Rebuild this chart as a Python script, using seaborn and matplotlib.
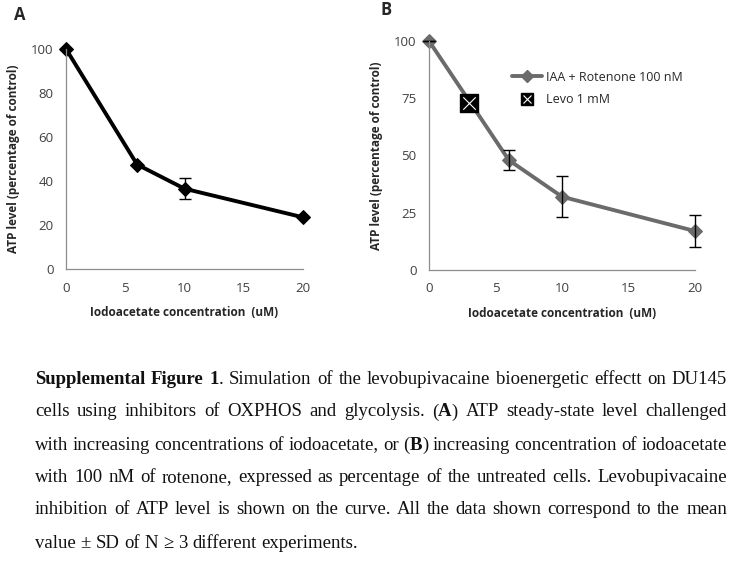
import numpy as np
import pandas as pd
import seaborn as sns
import matplotlib.pyplot as plt
from matplotlib.lines import Line2D
from matplotlib.legend_handler import HandlerTuple

# datos
conc_a = [0, 6, 10, 20]
atp_a = [100, 47.5, 36.5, 23.5]
sd_a = [0, 0, 4.8, 0]

conc_b = [0, 6, 10, 20]
atp_b = [100, 48, 32, 17]
sd_b = [0, 4.2, 9, 7]

levo_x = [3]
levo_y = [72.8]

x_ticks = [0, 5, 10, 15, 20]
y_ticks_a = [0, 20, 40, 60, 80, 100]
y_ticks_b = [0, 25, 50, 75, 100]

sns.set_style("white")
plt.rcParams['font.family'] = ['Open Sans', 'DejaVu Sans']

W, H = 729, 586
fig = plt.figure(figsize=(W / 100, H / 100), dpi=100)


def ax_at(x0, y0, x1, y1):
    return fig.add_axes([x0 / W, 1 - y1 / H, (x1 - x0) / W, (y1 - y0) / H])


tick_col = '#404040'
spine_col = '#8c8c8c'


def style_axes(ax, yticks):
    sns.despine(ax=ax)
    for s in ['left', 'bottom']:
        ax.spines[s].set_color(spine_col)
        ax.spines[s].set_linewidth(0.9)
    ax.set_xlim(0, 20)
    ax.set_ylim(0, 100)
    ax.set_xticks(x_ticks)
    ax.set_yticks(yticks)
    ax.tick_params(axis='both', direction='out', length=4, width=0.9,
                   color=spine_col, labelcolor=tick_col, labelsize=9.5, pad=5)
    ax.set_xlabel('Iodoacetate concentration  (uM)', fontsize=8.5,
                  fontweight='bold', color='#262626', labelpad=8)
    ax.set_ylabel('ATP level (percentage of control)', fontsize=8.5,
                  fontweight='bold', color='#262626', labelpad=8)


# Panel A
ax1 = ax_at(66, 49, 303, 269)
sns.lineplot(x=conc_a, y=atp_a, ax=ax1, color='black', linewidth=2.8,
             marker='D', markersize=7, markeredgecolor='black', clip_on=False)
ax1.errorbar(conc_a, atp_a, yerr=sd_a, fmt='none', ecolor='black',
             elinewidth=1, capsize=4, capthick=1, clip_on=False)
style_axes(ax1, y_ticks_a)

# Panel B
grey = '#6b6b6b'
ax2 = ax_at(429, 41, 695, 270)
sns.lineplot(x=conc_b, y=atp_b, ax=ax2, color=grey, linewidth=2.8,
             marker='D', markersize=7, markeredgecolor=grey, clip_on=False)
ax2.errorbar(conc_b, atp_b, yerr=sd_b, fmt='none', ecolor='black',
             elinewidth=1, capsize=4, capthick=1, clip_on=False)
sns.scatterplot(x=levo_x, y=levo_y, ax=ax2, marker='s', s=150,
                color='black', edgecolor='black', zorder=5)
sns.scatterplot(x=levo_x, y=levo_y, ax=ax2, marker='x', s=80,
                color='white', linewidth=0.8, zorder=6)
style_axes(ax2, y_ticks_b)

handles = [
    Line2D([], [], color=grey, linewidth=2.8, marker='D', markersize=6),
    (Line2D([], [], color='black', marker='s', markersize=9, linestyle='none'),
     Line2D([], [], color='white', marker='x', markersize=6, markeredgewidth=0.8,
            linestyle='none')),
]
leg = ax2.legend(handles, ['IAA + Rotenone 100 nM', 'Levo 1 mM'],
                 loc='upper left', bbox_to_anchor=(0.27, 0.92), frameon=False,
                 fontsize=9, handlelength=2.4, handletextpad=0.3,
                 labelspacing=0.75,
                 handler_map={tuple: HandlerTuple(ndivide=1, pad=0)})
for t in leg.get_texts():
    t.set_color('#262626')

fig.text(20 / W, 1 - 15 / H, 'A', fontsize=12, fontweight='bold',
         ha='center', va='center')
fig.text(386 / W, 1 - 10 / H, 'B', fontsize=12, fontweight='bold',
         ha='center', va='center')

# Texto de la leyenda de la figura (justificado)
cap_lines = [
    [[('Supplemental', 1)], [('Figure', 1)], [('1', 1), ('.', 0)], [('Simulation', 0)],
     [('of', 0)], [('the', 0)], [('levobupivacaine', 0)], [('bioenergetic', 0)],
     [('effectt', 0)], [('on', 0)], [('DU145', 0)]],
    [[(w, 0)] for w in 'cells using inhibitors of OXPHOS and glycolysis.'.split()]
    + [[('(', 0), ('A', 1), (')', 0)]]
    + [[(w, 0)] for w in 'ATP steady-state level challenged'.split()],
    [[(w, 0)] for w in 'with increasing concentrations of iodoacetate, or'.split()]
    + [[('(', 0), ('B', 1), (')', 0)]]
    + [[(w, 0)] for w in 'increasing concentration of iodoacetate'.split()],
    [[(w, 0)] for w in 'with 100 nM of rotenone, expressed as percentage of the untreated cells. Levobupivacaine'.split()],
    [[(w, 0)] for w in 'inhibition of ATP level is shown on the curve. All the data shown correspond to the mean'.split()],
    [[(w, 0)] for w in 'value ± SD of N ≥ 3 different experiments.'.split()],
]
line_y = [377, 410, 443, 476, 508, 541]
x_left, x_right = 35, 727
cap_font = 'Liberation Serif'

fig.canvas.draw()
r = fig.canvas.get_renderer()


def seg_width(txt, bold, size):
    t = fig.text(0, 0, txt, fontsize=size, family=cap_font,
                 fontweight='bold' if bold else 'normal')
    w = t.get_window_extent(r).width
    t.remove()
    return w


# tamaño mas grande que aun cabe en el ancho
size = 13.5
while size > 10:
    space = seg_width('a a', 0, size) - 2 * seg_width('a', 0, size)
    ok = True
    for words in cap_lines[:-1]:
        total = sum(seg_width(s, b, size) for wd in words for s, b in wd)
        if (x_right - x_left - total) / (len(words) - 1) < 0.8 * space:
            ok = False
    if ok:
        break
    size -= 0.25

for i, (words, yl) in enumerate(zip(cap_lines, line_y)):
    widths = [[seg_width(s, b, size) for s, b in wd] for wd in words]
    total = sum(sum(w) for w in widths)
    if i < len(cap_lines) - 1:
        gap = (x_right - x_left - total) / (len(words) - 1)
    else:
        gap = space
    x = x_left
    for wd, ws in zip(words, widths):
        for (s, b), w in zip(wd, ws):
            fig.text(x / W, 1 - yl / H, s, fontsize=size, family=cap_font,
                     fontweight='bold' if b else 'normal', color='#111111',
                     va='center_baseline', ha='left')
            x += w
        x += gap

fig.savefig('out.png', dpi=100)
